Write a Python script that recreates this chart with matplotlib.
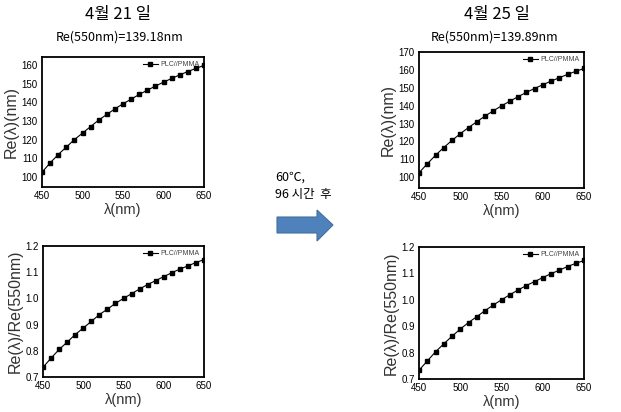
import matplotlib
matplotlib.use("Agg")
import matplotlib.pyplot as plt
from matplotlib.patches import Polygon

plt.rcParams['font.family'] = ['Liberation Sans', 'DejaVu Sans']

wavelength = [450, 460, 470, 480, 490, 500, 510, 520, 530, 540, 550,
              560, 570, 580, 590, 600, 610, 620, 630, 640, 650]

re_apr21 = [102.5, 107.5, 112.0, 116.0, 120.0, 123.5, 127.0, 130.5, 133.5, 136.5, 139.2,
            141.7, 144.2, 146.5, 148.7, 150.8, 152.8, 154.7, 156.5, 158.2, 159.8]
ratio_apr21 = [0.737, 0.772, 0.805, 0.833, 0.862, 0.887, 0.912, 0.938, 0.959, 0.981, 1.000,
               1.018, 1.036, 1.053, 1.068, 1.083, 1.098, 1.112, 1.124, 1.137, 1.148]

re_apr25 = [102.5, 107.5, 112.3, 116.6, 120.6, 124.3, 127.8, 131.0, 134.2, 137.1, 139.9,
            142.5, 145.0, 147.4, 149.6, 151.7, 153.7, 155.6, 157.5, 159.2, 160.8]
ratio_apr25 = [0.733, 0.768, 0.803, 0.833, 0.862, 0.889, 0.914, 0.936, 0.959, 0.980, 1.000,
               1.019, 1.037, 1.054, 1.069, 1.084, 1.099, 1.112, 1.126, 1.138, 1.149]

series_name = "PLC//PMMA"
title_left = "4월 21 일"
title_right = "4월 25 일"
sub_left = "Re(550nm)=139.18nm"
sub_right = "Re(550nm)=139.89nm"
mid_text = "60℃,\n96 시간  후"

W, H = 621, 412
fig = plt.figure(figsize=(W / 100, H / 100), dpi=100)

def px(x0, y0, x1, y1):
    return [x0 / W, 1 - y1 / H, (x1 - x0) / W, (y1 - y0) / H]

cjk = ['Noto Sans CJK KR', 'DejaVu Sans']

def make_ax(rect, y, ylim, yticks, ylabel, yfmt):
    ax = fig.add_axes(rect)
    ax.plot(wavelength, y, color='black', lw=0.8, marker='s', ms=3.0,
            label=series_name)
    ax.set_xlim(450, 650)
    ax.set_ylim(*ylim)
    ax.set_xticks([450, 500, 550, 600, 650])
    ax.set_yticks(yticks)
    ax.set_yticklabels([yfmt.format(v) for v in yticks])
    ax.tick_params(length=0, pad=3, labelsize=7)
    for s in ax.spines.values():
        s.set_linewidth(1.3)
    ax.set_xlabel("λ(nm)", fontsize=10.5, labelpad=1, color='#333333')
    ax.set_ylabel(ylabel, fontsize=11.5, labelpad=2, color='#333333')
    leg = ax.legend(loc='upper right', frameon=False, fontsize=5, handlelength=2.2,
                    borderaxespad=0.2, handletextpad=0.4, markerscale=0.8)
    for t in leg.get_texts():
        t.set_color('#444444')
    return ax

make_ax(px(42, 57, 204, 187), re_apr21, (94.6, 164.3), [100, 110, 120, 130, 140, 150, 160],
        "Re(λ)(nm)", "{:.0f}")
make_ax(px(43, 246, 204, 377), ratio_apr21, (0.7, 1.2), [0.7, 0.8, 0.9, 1.0, 1.1, 1.2],
        "Re(λ)/Re(550nm)", "{:.1f}")
make_ax(px(419, 52, 584, 188), re_apr25, (94.0, 170.0), [100, 110, 120, 130, 140, 150, 160, 170],
        "Re(λ)(nm)", "{:.0f}")
make_ax(px(419, 247, 584, 379), ratio_apr25, (0.7, 1.2), [0.7, 0.8, 0.9, 1.0, 1.1, 1.2],
        "Re(λ)/Re(550nm)", "{:.1f}")

fig.text(118 / W, 1 - 15 / H, title_left, ha='center', va='center', fontsize=12, family=cjk)
fig.text(120 / W, 1 - 37 / H, sub_left, ha='center', va='center', fontsize=9, family=cjk)
fig.text(497 / W, 1 - 15 / H, title_right, ha='center', va='center', fontsize=12, family=cjk)
fig.text(495 / W, 1 - 37 / H, sub_right, ha='center', va='center', fontsize=9, family=cjk)

fig.text(275 / W, 1 - 186 / H, mid_text, ha='left', va='center', fontsize=9,
         family=cjk, linespacing=1.4)

pts = [(277, 217), (317, 217), (317, 210), (333, 225), (317, 241), (317, 233), (277, 233)]
arrow = Polygon([(x / W, 1 - y / H) for x, y in pts], closed=True,
                facecolor='#4F81BD', edgecolor='#41719C', lw=0.8,
                transform=fig.transFigure)
fig.add_artist(arrow)

fig.savefig("out.png", dpi=100)
